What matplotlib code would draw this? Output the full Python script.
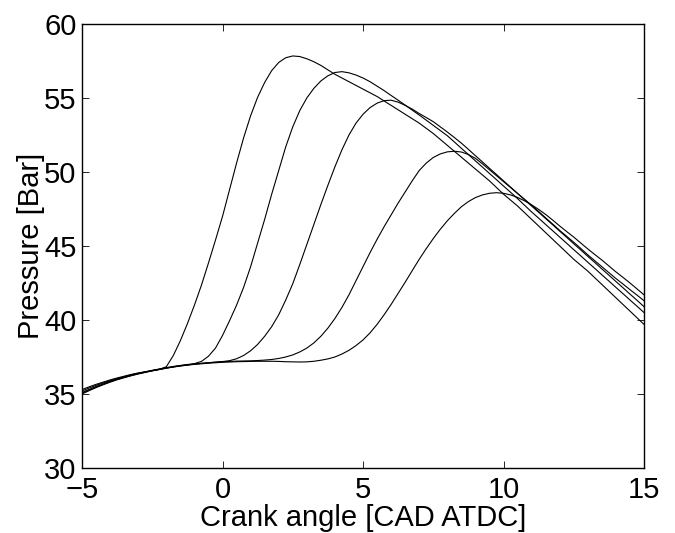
import matplotlib
matplotlib.use('Agg')
import matplotlib.pyplot as plt

plt.rcParams['font.family'] = ['Liberation Sans', 'DejaVu Sans']

# crank angle grid [CAD ATDC], 0.25 deg steps
crank = [-5 + 0.25 * i for i in range(81)]

# pressure traces [Bar], earliest to latest combustion
p1 = [35.3, 35.48, 35.65, 35.8, 35.95, 36.08, 36.2, 36.32, 36.42, 36.5,
      36.58, 36.66, 36.84, 37.6, 38.6, 39.75, 41.0, 42.35, 43.85, 45.4,
      47.0, 48.8, 50.6, 52.3, 53.8, 55.05, 56.05, 56.85, 57.4, 57.72,
      57.84, 57.8, 57.65, 57.45, 57.2, 56.9, 56.6, 56.35, 56.1, 55.85,
      55.6, 55.35, 55.1, 54.8, 54.5, 54.2, 53.9, 53.6, 53.3, 52.95,
      52.6, 52.2, 51.8, 51.4, 51.0, 50.6, 50.2, 49.8, 49.4, 48.95,
      48.5, 48.1, 47.7, 47.25, 46.8, 46.35, 45.9, 45.45, 45.0, 44.55,
      44.1, 43.7, 43.3, 42.85, 42.4, 41.95, 41.5, 41.05, 40.6, 40.15, 39.7]
p2 = [35.2, 35.4, 35.58, 35.75, 35.9, 36.04, 36.17, 36.29, 36.4, 36.5,
      36.6, 36.69, 36.78, 36.86, 36.93, 36.99, 37.05, 37.2, 37.55, 38.1,
      38.95, 39.95, 41.0, 42.2, 43.6, 45.2, 46.8, 48.5, 50.1, 51.7,
      53.05, 54.15, 55.0, 55.65, 56.15, 56.5, 56.72, 56.78, 56.7, 56.55,
      56.35, 56.1, 55.8, 55.5, 55.17, 54.85, 54.52, 54.18, 53.85, 53.5,
      53.15, 52.8, 52.45, 52.03, 51.6, 51.18, 50.75, 50.33, 49.9, 49.48,
      49.05, 48.63, 48.2, 47.75, 47.3, 46.88, 46.45, 46.03, 45.6, 45.18,
      44.75, 44.33, 43.9, 43.48, 43.05, 42.63, 42.2, 41.78, 41.35, 40.93, 40.5]
p3 = [35.1, 35.3, 35.5, 35.68, 35.85, 36.0, 36.14, 36.27, 36.38, 36.48,
      36.58, 36.67, 36.76, 36.84, 36.91, 36.97, 37.02, 37.07, 37.11, 37.15,
      37.19, 37.25, 37.38, 37.6, 37.92, 38.35, 38.9, 39.55, 40.35, 41.35,
      42.45, 43.75, 45.1, 46.45, 47.8, 49.1, 50.35, 51.5, 52.5, 53.3,
      53.9, 54.35, 54.65, 54.82, 54.85, 54.72, 54.5, 54.25, 53.95, 53.68,
      53.4, 53.05, 52.7, 52.33, 51.95, 51.53, 51.1, 50.68, 50.25, 49.83,
      49.4, 48.98, 48.55, 48.13, 47.7, 47.28, 46.85, 46.43, 46.0, 45.58,
      45.15, 44.73, 44.3, 43.88, 43.45, 43.03, 42.6, 42.18, 41.75, 41.33, 40.9]
p4 = [35.05, 35.27, 35.47, 35.65, 35.82, 35.98, 36.12, 36.25, 36.37, 36.47,
      36.57, 36.66, 36.75, 36.83, 36.9, 36.96, 37.02, 37.07, 37.11, 37.15,
      37.18, 37.2, 37.22, 37.23, 37.24, 37.26, 37.29, 37.33, 37.4, 37.5,
      37.64, 37.84, 38.1, 38.45, 38.9, 39.45, 40.1, 40.85, 41.7, 42.65,
      43.6, 44.55, 45.45, 46.3, 47.1, 47.9, 48.65, 49.4, 50.1, 50.6,
      50.98, 51.22, 51.36, 51.4, 51.35, 51.18, 50.92, 50.55, 50.15, 49.75,
      49.35, 48.95, 48.55, 48.15, 47.75, 47.33, 46.9, 46.48, 46.05, 45.65,
      45.25, 44.83, 44.4, 44.0, 43.6, 43.2, 42.8, 42.43, 42.05, 41.68, 41.3]
p5 = [35.0, 35.22, 35.43, 35.62, 35.8, 35.96, 36.1, 36.23, 36.35, 36.46,
      36.56, 36.65, 36.74, 36.82, 36.89, 36.95, 37.0, 37.04, 37.08, 37.11,
      37.14, 37.16, 37.18, 37.19, 37.2, 37.21, 37.21, 37.21, 37.2, 37.18,
      37.17, 37.16, 37.17, 37.21, 37.28, 37.37, 37.5, 37.7, 37.95, 38.27,
      38.65, 39.13, 39.7, 40.35, 41.05, 41.8, 42.55, 43.33, 44.1, 44.82,
      45.5, 46.13, 46.7, 47.2, 47.65, 48.0, 48.27, 48.45, 48.56, 48.6,
      48.56, 48.45, 48.28, 48.05, 47.78, 47.47, 47.13, 46.75, 46.35, 45.97,
      45.6, 45.2, 44.8, 44.42, 44.05, 43.65, 43.25, 42.88, 42.5, 42.1, 41.7]

xticks = [-5, 0, 5, 10, 15]
yticks = [30, 35, 40, 45, 50, 55, 60]

fig = plt.figure(figsize=(6.75, 5.33), dpi=100)
ax = fig.add_axes([0.1215, 0.122, 0.8326, 0.833])

for p in [p1, p2, p3, p4, p5]:
    ax.plot(crank, p, color='black', linewidth=0.8)

ax.set_xlim(-5, 15)
ax.set_ylim(30, 60)
ax.set_xticks(xticks)
ax.set_yticks(yticks)
ax.tick_params(direction='in', top=True, right=True, length=5, width=0.6,
               labelsize=21)
ax.tick_params(axis='x', pad=6)
ax.tick_params(axis='y', pad=4)
for s in ax.spines.values():
    s.set_linewidth(1.0)

ax.set_xlabel('Crank angle [CAD ATDC]', fontsize=21, labelpad=0)
ax.set_ylabel('Pressure [Bar]', fontsize=21, labelpad=-1)

fig.savefig('out.png', dpi=100)
